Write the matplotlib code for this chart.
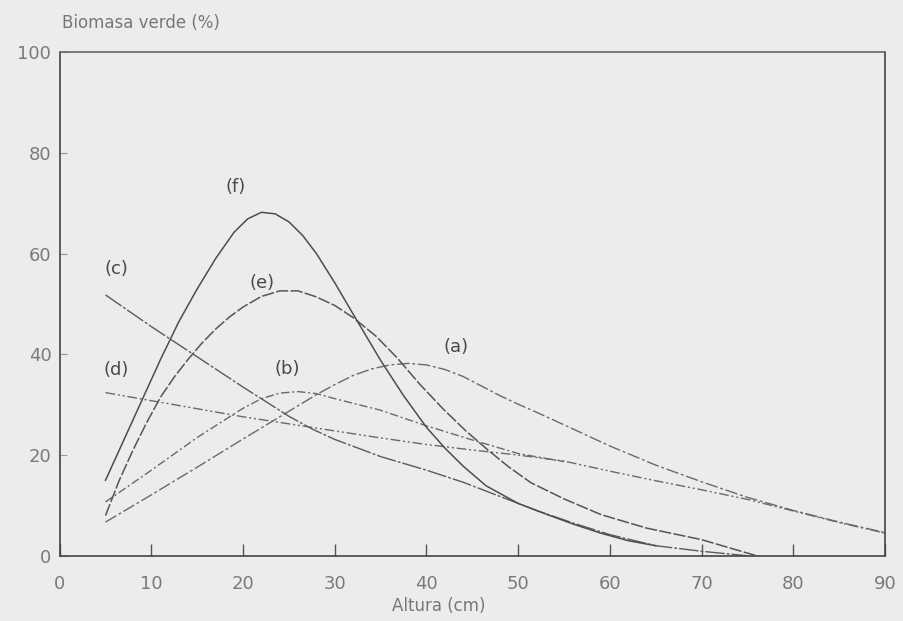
import numpy as np
import matplotlib
matplotlib.use("Agg")
import matplotlib.pyplot as plt

# =============================================================================
# Datos
# =============================================================================
x_a = [5, 10, 15, 20, 25, 28, 30, 32, 34, 36, 38, 40, 42, 44, 46, 48, 50, 52,
       55, 60, 65, 70, 75, 80, 85, 90]
y_a = [6.7, 12.1, 17.6, 23.2, 28.7, 32.0, 34.0, 35.8, 37.1, 37.9, 38.2, 37.9,
       37.0, 35.6, 33.7, 31.8, 30.1, 28.5, 26.0, 21.8, 18.0, 14.7, 11.6, 9.0, 6.7, 4.6]

x_b = [5, 10, 15, 20, 22, 24, 26, 28, 30, 35, 40, 45, 50, 55]
y_b = [10.7, 17.0, 23.5, 29.3, 31.2, 32.3, 32.6, 32.2, 31.2, 28.9, 25.8, 23.0, 20.3, 18.7]

x_c = [5, 10, 15, 20, 25, 27.5, 30, 35, 40, 44, 48, 52, 56, 60, 65, 70, 75]
y_c = [51.8, 45.5, 39.5, 33.5, 27.7, 25.2, 23.1, 19.7, 17.0, 14.6, 11.8, 9.0, 6.5, 4.2, 2.0, 0.9, 0.0]

x_d = [5, 10, 15, 20, 25, 30, 35, 40, 45, 50, 55, 60, 65, 70, 75, 80, 85, 90]
y_d = [32.4, 30.8, 29.2, 27.6, 26.2, 24.8, 23.4, 22.1, 21.0, 20.0, 18.8, 16.8, 14.9, 13.1, 11.2, 8.9, 6.6, 4.5]

x_e = [5, 6.5, 8, 9.5, 11, 12.5, 14, 15.5, 17, 18.5, 20, 22, 24, 26, 28, 30, 32,
       34.5, 36.8, 39.3, 41.9, 44.3, 46.7, 49, 51.4, 55, 59, 64, 70, 76]
y_e = [8.0, 15.0, 21.0, 26.5, 31.5, 35.5, 39.0, 42.2, 45.0, 47.4, 49.4, 51.5,
       52.6, 52.6, 51.4, 49.7, 47.3, 43.6, 39.3, 34.0, 29.0, 24.8, 21.0, 17.6,
       14.5, 11.3, 8.2, 5.5, 3.2, 0.0]

x_f = [5, 7, 9, 11, 13, 15, 17, 19, 20.5, 22, 23.5, 25, 26.5, 28, 30, 32, 35,
       37.5, 40, 42, 44, 46.5, 50, 53, 56, 59, 62, 65]
y_f = [15.0, 23.0, 31.0, 39.0, 46.5, 53.0, 59.0, 64.2, 66.9, 68.2, 67.9, 66.3,
       63.6, 60.0, 54.2, 48.0, 38.8, 31.8, 25.5, 21.4, 17.8, 13.9, 10.4, 8.3,
       6.3, 4.5, 3.0, 2.0]

etiquetas = ["(a)", "(b)", "(c)", "(d)", "(e)", "(f)"]
etiq_x = [43.2, 24.8, 6.2, 6.2, 22.1, 19.2]
etiq_y = [41.5, 37.1, 57.0, 36.9, 54.2, 73.2]

x_ticks = [0, 10, 20, 30, 40, 50, 60, 70, 80, 90]
y_ticks = [0, 20, 40, 60, 80, 100]

# =============================================================================
# Grafico
# =============================================================================
fondo = "#ececec"

fig = plt.figure(figsize=(9.04, 6.21), dpi=100, facecolor=fondo)
ax = fig.add_axes([0.066, 0.105, 0.913, 0.811], facecolor=fondo)

ax.plot(x_a, y_a, color="#6a6a6a", lw=1.0, ls=(0, (9, 2, 2, 2)))
ax.plot(x_b, y_b, color="#6a6a6a", lw=1.0, ls=(0, (6, 2, 1.5, 2)))
ax.plot(x_c, y_c, color="#5a5a5a", lw=1.0, ls=(0, (14, 1.5, 2, 1.5)))
ax.plot(x_d, y_d, color="#6a6a6a", lw=1.0, ls=(0, (7, 2, 1.5, 2, 1.5, 2)))
ax.plot(x_e, y_e, color="#555555", lw=1.1, ls=(0, (8, 1.5)))
ax.plot(x_f, y_f, color="#4d4d4d", lw=1.1, ls="-")

for t, xt, yt in zip(etiquetas, etiq_x, etiq_y):
    ax.text(xt, yt, t, fontsize=13, color="#4a4a4a", ha="center", va="center")

ax.set_xlim(0, 90)
ax.set_ylim(0, 100)
ax.set_xticks(x_ticks)
ax.set_yticks(y_ticks)
ax.tick_params(axis="x", direction="in", length=9, width=1.0, color="#555555",
               pad=14, labelsize=13, labelcolor="#7a7a7a")
ax.tick_params(axis="y", direction="in", length=5, width=0.8, color="#999999",
               pad=6, labelsize=13, labelcolor="#7a7a7a")
for s in ax.spines.values():
    s.set_color("#444444")
    s.set_linewidth(1.2)
ax.spines["top"].set_color("#666666")

fig.text(0.069, 0.963, "Biomasa verde (%)", fontsize=12, color="#777777",
         ha="left", va="center")
fig.text(0.485, 0.024, "Altura (cm)", fontsize=12, color="#777777",
         ha="center", va="center")

fig.savefig("out.png", dpi=100, facecolor=fondo)
